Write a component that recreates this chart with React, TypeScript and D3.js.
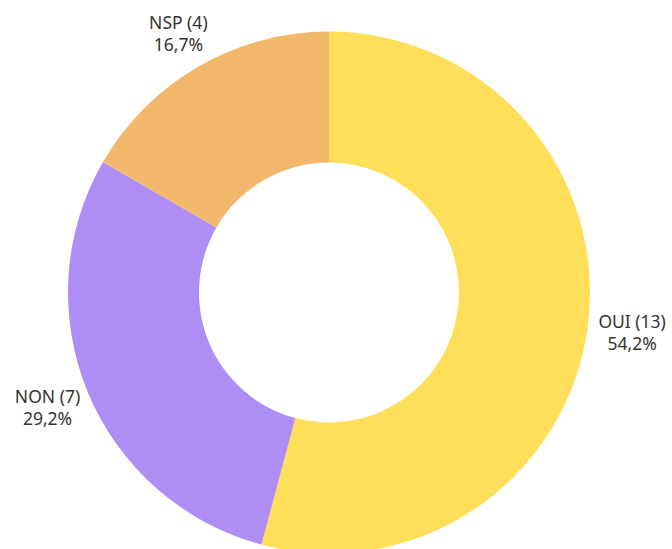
import React, { useEffect, useRef } from "react";
import * as d3 from "d3";

const categories = ["OUI", "NON", "NSP"];
const counts = [13, 7, 4];
const percentLabels = ["54,2%", "29,2%", "16,7%"];
const colors = ["#FFDE59", "#AE8DF4", "#F2B86C"];

const WIDTH = 672;
const HEIGHT = 549;

const App: React.FC = () => {
  const svgRef = useRef<SVGSVGElement | null>(null);

  useEffect(() => {
    document.body.style.margin = "0";
    if (!svgRef.current) return;

    const svg = d3.select(svgRef.current);
    svg.selectAll("*").remove();

    const cx = 329;
    const cy = 292.5;
    const outer = 261;
    const inner = 130;
    const labelRx = 272;
    const labelRy = 277;

    const data = categories.map((c, i) => ({ name: c, count: counts[i], pct: percentLabels[i], color: colors[i] }));

    const pie = d3
      .pie<(typeof data)[number]>()
      .value((d) => d.count)
      .sort(null);

    const arc = d3
      .arc<d3.PieArcDatum<(typeof data)[number]>>()
      .innerRadius(inner)
      .outerRadius(outer);

    const g = svg.append("g").attr("transform", `translate(${cx},${cy})`);
    const arcs = pie(data);

    g.selectAll("path")
      .data(arcs)
      .join("path")
      .attr("d", arc)
      .attr("fill", (d) => d.data.color);

    // etiquetas fuera del anillo
    const labels = g
      .selectAll("text")
      .data(arcs)
      .join("text")
      .attr("font-family", "'Noto Sans', 'Open Sans', sans-serif")
      .attr("font-size", 17.5)
      .attr("fill", "#333")
      .attr("text-anchor", "middle");

    labels
      .append("tspan")
      .attr("x", 0)
      .attr("dy", 0)
      .text((d) => `${d.data.name} (${d.data.count})`);
    labels
      .append("tspan")
      .attr("x", 0)
      .attr("dy", 22)
      .text((d) => d.data.pct);

    labels.each(function (d) {
      const el = this as SVGTextElement;
      const box = el.getBBox();
      const a = (d.startAngle + d.endAngle) / 2;
      const s = Math.sin(a);
      const c = Math.cos(a);
      const px = labelRx * s;
      const py = -labelRy * c;
      const centerX = px + (box.width * s) / 2;
      const centerY = py - (box.height * c) / 2;
      // desplazar para que el centro de la caja quede en (centerX, centerY)
      const dx = centerX - (box.x + box.width / 2);
      const dy = centerY - (box.y + box.height / 2);
      d3.select(el).attr("transform", `translate(${dx},${dy})`);
    });
  }, []);

  return <svg ref={svgRef} width={WIDTH} height={HEIGHT} style={{ display: "block" }}></svg>;
};

export default App;
